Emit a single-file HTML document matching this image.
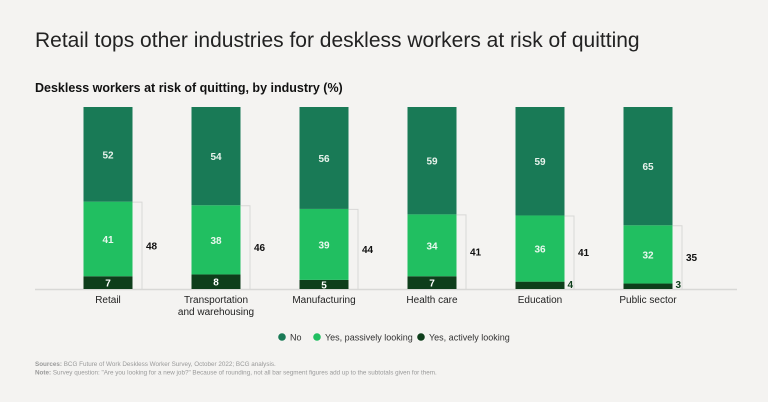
<!DOCTYPE html>
<html><head><meta charset="utf-8">
<style>
body{margin:0;width:768px;height:402px;background:#f4f3f1;font-family:"Liberation Sans",sans-serif;overflow:hidden}
svg{display:block}
</style></head>
<body>
<svg id="chart" width="768" height="402">
<text x="35" y="47" font-size="21" fill="#222">Retail tops other industries for deskless workers at risk of quitting</text>
<text x="35" y="92" font-size="12.5" font-weight="bold" fill="#111">Deskless workers at risk of quitting, by industry (%)</text>
<line x1="35" y1="289.5" x2="737" y2="289.5" stroke="#d8d8d6" stroke-width="1.5"/>
<g id="bars"></g>
<g font-size="9" fill="#333">
<g><circle cx="282" cy="337" r="3.8" fill="#197a56"/><text x="290" y="340.5">No</text></g>
<g><circle cx="317" cy="337" r="3.8" fill="#21bf61"/><text x="325" y="340.5">Yes, passively looking</text></g>
<g><circle cx="421" cy="337" r="3.8" fill="#0e3e1b"/><text x="429" y="340.5">Yes, actively looking</text></g>
</g>
<text x="35" y="366" font-size="6.3" fill="#999"><tspan font-weight="bold">Sources:</tspan> BCG Future of Work Deskless Worker Survey, October 2022; BCG analysis.</text>
<text x="35" y="374.5" font-size="6.3" fill="#999"><tspan font-weight="bold">Note:</tspan> Survey question: "Are you looking for a new job?" Because of rounding, not all bar segment figures add up to the subtotals given for them.</text>
</svg>
<script>
const categories=["Retail","Transportation|and warehousing","Manufacturing","Health care","Education","Public sector"];
const noValues=[52,54,56,59,59,65];
const passiveValues=[41,38,39,34,36,32];
const activeValues=[7,8,5,7,4,3];
const subtotals=[48,46,44,41,41,35];
const NS="http://www.w3.org/2000/svg";
const baseY=289, plotH=182, barW=49;
const y=v=>baseY-v*plotH/100;
const xc=i=>108+i*108;
const g=document.getElementById('bars');
function mk(tag,attrs,parent){const e=document.createElementNS(NS,tag);for(const k in attrs)e.setAttribute(k,attrs[k]);(parent||g).appendChild(e);return e;}
categories.forEach((c,i)=>{
  const x0=xc(i)-barW/2;
  const a=activeValues[i],p=passiveValues[i],n=noValues[i];
  const tot=a+p+n;
  const sa=a*100/tot, sp=p*100/tot, sn=n*100/tot;
  const r1=mk('rect',{x:x0,y:y(sa),width:barW,height:baseY-y(sa),fill:'#0e3e1b'});
  
  
  const r2=mk('rect',{x:x0,y:y(sa+sp),width:barW,height:y(sa)-y(sa+sp),fill:'#21bf61'});
  
  
  const r3=mk('rect',{x:x0,y:y(100),width:barW,height:y(sa+sp)-y(100),fill:'#197a56'});
  
  
  const t3=mk('text',{x:xc(i),y:(y(100)+y(sa+sp))/2+4,'text-anchor':'middle','font-size':10,'font-weight':'bold',fill:'#e8f3ec'});t3.textContent=n;
  
  
  const t2=mk('text',{x:xc(i),y:(y(sa)+y(sa+sp))/2+4,'text-anchor':'middle','font-size':10,'font-weight':'bold',fill:'#eaf8ef'});t2.textContent=p;
  
  
  const t1=(baseY-y(sa)>=9)?mk('text',{x:xc(i),y:(baseY+y(sa))/2+4,'text-anchor':'middle','font-size':10,'font-weight':'bold',fill:'#fff'}):mk('text',{x:x0+barW+3,y:baseY-1,'font-size':10,'font-weight':'bold',fill:'#0e3e1b'});
  t1.textContent=a;
  
  
  const bx=x0+barW+9.5;
  const br=mk('path',{d:`M${x0+barW} ${y(sa+sp)+0.5}H${bx}V${baseY}`,fill:'none',stroke:'#d8d8d6','stroke-width':1});
  
  
  const st=mk('text',{x:bx+4,y:(y(sa+sp)+baseY)/2+4,'font-size':10,'font-weight':'bold',fill:'#111'});st.textContent=subtotals[i];
  
  
  const lines=c.split('|');
  lines.forEach((ln,j)=>{
    const tl=mk('text',{x:xc(i),y:303+j*12,'text-anchor':'middle','font-size':10,fill:'#222'});tl.textContent=ln;
    
    
  });
});
</script>
</body></html>
